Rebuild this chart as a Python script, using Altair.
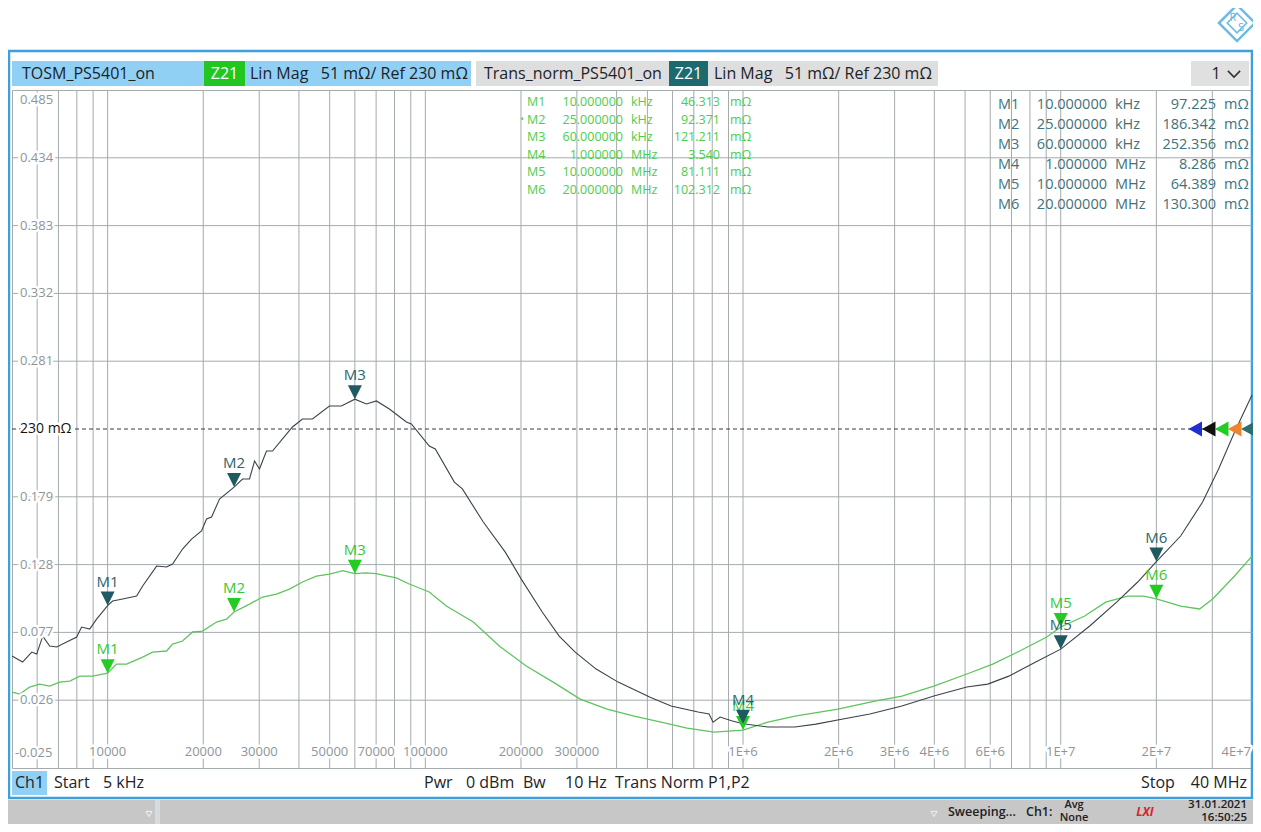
import altair as alt
import pandas as pd

FONT = "Open Sans"

# ---------------- values ----------------
# Trans_norm_PS5401_on trace (frequency Hz, |Z21| Ohm)
TRANS_TRACE = [
    (5000, 0.0592), (5400, 0.0547), (5770, 0.0622), (5980, 0.0607), (6250, 0.0742),
    (6570, 0.0667), (6910, 0.0660), (7430, 0.0697), (7990, 0.0735), (8280, 0.0810),
    (8780, 0.0795), (9230, 0.0870), (10000, 0.0972), (10370, 0.1006), (11150, 0.1021),
    (12340, 0.1043), (12890, 0.1119), (14260, 0.1269), (15330, 0.1262), (16010, 0.1284),
    (17210, 0.1397), (18370, 0.1472), (19750, 0.1533), (20480, 0.1623), (21240, 0.1638),
    (22500, 0.1773), (25000, 0.1863), (26580, 0.1924), (27960, 0.1924), (29000, 0.2059),
    (30060, 0.1999), (31620, 0.2134), (33030, 0.2134), (36550, 0.2262), (38180, 0.2315),
    (41050, 0.2375), (44130, 0.2375), (49900, 0.2473), (54420, 0.2473), (60000, 0.2524),
    (65240, 0.2488), (70160, 0.2511), (77060, 0.2450), (87170, 0.2353), (90360, 0.2338),
    (102900, 0.2172), (107500, 0.2150), (123400, 0.1901), (130800, 0.1849), (152200, 0.1600),
    (178500, 0.1374), (200400, 0.1171), (233300, 0.0923), (263800, 0.0742), (296300, 0.0622),
    (344900, 0.0494), (404500, 0.0396), (510000, 0.0283), (593700, 0.0216), (722000, 0.0171),
    (781800, 0.0156), (804900, 0.0095), (846800, 0.0133), (920000, 0.0105), (1000000, 0.0083),
    (1198000, 0.0058), (1457000, 0.0058), (1697000, 0.0080), (2063000, 0.0118), (2508000, 0.0156),
    (3162000, 0.0216), (3988000, 0.0291), (5063000, 0.0359), (5893000, 0.0381), (6864000, 0.0441),
    (8344000, 0.0547), (10000000, 0.0644), (12340000, 0.0818), (15000000, 0.0998),
    (17470000, 0.1149), (20000000, 0.1303), (23850000, 0.1495), (27960000, 0.1751),
    (31400000, 0.1999), (35260000, 0.2277), (40000000, 0.2555),
]
# TOSM_PS5401_on trace
TOSM_TRACE = [
    (5000, 0.0321), (5290, 0.0306), (5680, 0.0359), (6110, 0.0381), (6570, 0.0366),
    (7070, 0.0396), (7600, 0.0404), (8170, 0.0441), (8970, 0.0441), (10000, 0.0463),
    (10670, 0.0532), (11470, 0.0532), (12890, 0.0584), (13850, 0.0622), (15330, 0.0630),
    (16010, 0.0682), (17210, 0.0705), (18510, 0.0773), (19890, 0.0780), (22020, 0.0848),
    (23670, 0.0870), (25000, 0.0924), (27960, 0.0983), (30720, 0.1036), (34000, 0.1058),
    (37360, 0.1096), (41050, 0.1149), (45410, 0.1194), (49900, 0.1209), (55000, 0.1235),
    (60000, 0.1212), (65000, 0.1218), (70000, 0.1212), (75400, 0.1195), (81000, 0.1180),
    (89000, 0.1134), (102900, 0.1074), (116400, 0.0968), (141600, 0.0848), (170900, 0.0667),
    (207800, 0.0517), (252600, 0.0396), (307200, 0.0268), (373500, 0.0193), (454200, 0.0140),
    (552200, 0.0095), (666600, 0.0050), (810700, 0.0020), (1000000, 0.0035), (1198000, 0.0095),
    (1457000, 0.0140), (1989000, 0.0193), (2601000, 0.0253), (3162000, 0.0291), (3988000, 0.0366),
    (5063000, 0.0457), (6112000, 0.0532), (7431000, 0.0630), (9037000, 0.0735), (10000000, 0.0811),
    (11900000, 0.0893), (13850000, 0.0998), (16240000, 0.1043), (18240000, 0.1043),
    (20000000, 0.1023), (23850000, 0.0968), (27360000, 0.0946), (30060000, 0.1021),
    (35260000, 0.1194), (40000000, 0.1344),
]
MARKER_NAMES = ["M1", "M2", "M3", "M4", "M5", "M6"]
MARKER_FREQ = [10000, 25000, 60000, 1000000, 10000000, 20000000]
MARKER_FREQ_TXT = ["10.000000", "25.000000", "60.000000", "1.000000", "10.000000", "20.000000"]
MARKER_UNIT = ["kHz", "kHz", "kHz", "MHz", "MHz", "MHz"]
TOSM_MARKER_MOHM = [46.313, 92.371, 121.211, 3.540, 81.111, 102.312]
TRANS_MARKER_MOHM = [97.225, 186.342, 252.356, 8.286, 64.389, 130.300]
TOSM_MARKER_TXT = ["46.313", "92.371", "121.211", "3.540", "81.111", "102.312"]
TRANS_MARKER_TXT = ["97.225", "186.342", "252.356", "8.286", "64.389", "130.300"]

Y_TICKS = [0.485, 0.434, 0.383, 0.332, 0.281, 0.230, 0.179, 0.128, 0.077, 0.026, -0.025]
Y_TICK_TXT = ["0.485", "0.434", "0.383", "0.332", "0.281", "230 m\u03a9", "0.179", "0.128",
              "0.077", "0.026", "-0.025"]
X_GRID = [6000, 7000, 8000, 9000, 10000, 20000, 30000, 40000, 50000, 60000, 70000, 80000,
          90000, 100000, 200000, 300000, 400000, 500000, 600000, 700000, 800000, 900000,
          1000000, 2000000, 3000000, 4000000, 5000000, 6000000, 7000000, 8000000, 9000000,
          10000000, 20000000, 30000000]
X_LABEL_FREQ = [10000, 20000, 30000, 50000, 70000, 100000, 200000, 300000, 1000000,
                2000000, 3000000, 4000000, 6000000, 10000000, 20000000, 40000000]
X_LABEL_TXT = ["10000", "20000", "30000", "50000", "70000", "100000", "200000", "300000",
               "1E+6", "2E+6", "3E+6", "4E+6", "6E+6", "1E+7", "2E+7", "4E+7"]
REF_LEVEL = 0.230

# ---------------- layout ----------------
OX, OY = 12, 90            # plot origin in page pixels
W, H = 1240, 678
TOTAL_W, TOTAL_H = 1245, 816
PAD_L, PAD_T = OX - 8, OY - 8
PAD_R = TOTAL_W - PAD_L - W
PAD_B = TOTAL_H - PAD_T - H

GRID = "#a5aaad"
YLAB = "#8e959a"
DARK_TRACE = "#39434a"
GREEN_TRACE = "#5ec45e"
DARK_MK = "#1f5a62"
DARK_MK_TXT = "#2c656c"
GREEN_MK = "#22cc22"
GREEN_MK_TXT = "#35c935"
DARK_TAB = "#41727a"
GREEN_TAB = "#4ccd4c"
HDR_BLUE = "#90d0f5"
FRAME = "#3f9fdc"

xs = alt.Scale(type="log", domain=[5000, 40000000], nice=False)
ys = alt.Scale(domain=[-0.025, 0.485], nice=False, zero=False)

ONE = pd.DataFrame({"k": [0]})
REF_DF = pd.DataFrame({"v": [REF_LEVEL]})


def PX(xr):
    return alt.value(xr - OX)


def PY(yr):
    return alt.value(yr - OY)


def box(x1, y1, x2, y2, fill, stroke=None, sw=1, fo=1):
    kw = dict(fill=fill, fillOpacity=fo)
    if stroke:
        kw.update(stroke=stroke, strokeWidth=sw)
    return alt.Chart(ONE).mark_rect(**kw).encode(x=PX(x1), x2=PX(x2), y=PY(y1), y2=PY(y2))


def label(s, xr, yr, size=16, color="#1c2329", align="left", baseline="middle",
          weight="normal", style="normal", **kw):
    return alt.Chart(ONE).mark_text(
        text=s, font=FONT, fontSize=size, color=color, align=align, baseline=baseline,
        fontWeight=weight, fontStyle=style, **kw
    ).encode(x=PX(xr), y=PY(yr))


layers = []

# ---------------- decorations: frame, header, footer, status bar ----------------
layers.append(box(8, 800, 1262, 832, "#c7c7c7"))
layers.append(box(155, 800, 160, 832, "#d6dbe0"))
layers.append(box(9, 51, 1252, 798, "white", stroke=FRAME, sw=2.5, fo=0))
layers.append(box(12, 61, 471, 86, HDR_BLUE))
layers.append(box(204, 61, 245, 86, "#21c621"))
layers.append(box(476, 61, 938, 86, "#dedede"))
layers.append(box(669, 61, 708, 86, "#1d6a6e"))
layers.append(box(1191, 61, 1249, 86, "#e0e0e0"))
layers.append(box(12, 771, 47, 795, HDR_BLUE))

NB = "\u00a0"
LINMAG = "Lin" + NB + "Mag" + NB * 3 + "51" + NB + "m\u03a9/" + NB + "Ref" + NB + "230" + NB + "m\u03a9"
layers += [
    label("TOSM_PS5401_on", 22, 74),
    label("Z21", 224.5, 74, color="white", align="center"),
    label(LINMAG, 250, 74),
    label("Trans_norm_PS5401_on", 484, 74),
    label("Z21", 688.5, 74, color="white", align="center"),
    label(LINMAG, 714, 74),
    label("1", 1216, 74, align="center"),
    label("Ch1", 29.5, 783, align="center"),
    label("Start", 54, 783),
    label("5" + NB + "kHz", 103, 783),
    label("Pwr", 424, 783),
    label("0" + NB + "dBm", 466, 783),
    label("Bw", 523, 783),
    label("10" + NB + "Hz", 565, 783),
    label("Trans" + NB + "Norm" + NB + "P1,P2", 615, 783),
    label("Stop", 1141, 783),
    label("40" + NB + "MHz", 1247, 783, align="right"),
    label("Sweeping...", 948, 812, size=12.5, weight=600, color="#202020"),
    label("Ch1:", 1026, 812, size=12.5, weight=600, color="#202020"),
    label("Avg", 1074, 805, size=11, weight=600, color="#202020", align="center"),
    label("None", 1074, 818, size=11, weight=600, color="#202020", align="center"),
    label("LXI", 1145, 812, size=12, weight="bold", style="italic", color="#d8242b", align="center"),
    label("31.01.2021", 1247, 805, size=11.5, weight=600, color="#202020", align="right"),
    label("16:50:25", 1247, 818, size=11.5, weight=600, color="#202020", align="right"),
    label("R", 1233, 18, size=11, color="#5db3e2", align="center"),
    label("S", 1241, 28, size=11, color="#5db3e2", align="center"),
]
# chevron in "1 v" box, little status triangles, R&S diamond
layers.append(alt.Chart(ONE).mark_point(shape="M-1,-0.5L0,0.5L1,-0.5", filled=False, size=150,
                                        stroke="#333333", strokeWidth=1.6, opacity=1)
              .encode(x=PX(1234), y=PY(74)))
for tx in (149, 934):
    layers.append(alt.Chart(ONE).mark_point(shape="triangle-down", filled=False, size=36,
                                            stroke="#f2f2f2", strokeWidth=1, opacity=1)
                  .encode(x=PX(tx), y=PY(814)))
layers.append(alt.Chart(ONE).mark_point(shape="diamond", filled=False, size=1300,
                                        stroke="#6dbbe4", strokeWidth=2.5, opacity=1)
              .encode(x=PX(1237), y=PY(23)))
layers.append(alt.Chart(ONE).mark_point(shape="diamond", filled=False, size=380,
                                        stroke="#6dbbe4", strokeWidth=1.6, opacity=1)
              .encode(x=PX(1237), y=PY(23)))

# ---------------- grid ----------------
layers.append(alt.Chart(pd.DataFrame({"f": X_GRID})).mark_rule(color=GRID, strokeWidth=1)
              .encode(x=alt.X("f:Q", scale=xs, axis=None), y=alt.value(0), y2=alt.value(H)))
hvals = [v for v in Y_TICKS if v not in (0.485, REF_LEVEL, -0.025)]
layers.append(alt.Chart(pd.DataFrame({"v": hvals})).mark_rule(color=GRID, strokeWidth=1)
              .encode(y=alt.Y("v:Q", scale=ys, axis=None), x=alt.value(0), x2=alt.value(W)))


# ---------------- marker tables (one text per cell) ----------------
def table_layers(value_txt, xcols, y0, lh, size, color):
    out = []
    cols = [(MARKER_NAMES, "left"), (MARKER_FREQ_TXT, "right"), (MARKER_UNIT, "left"),
            (value_txt, "right"), (["m\u03a9"] * 6, "left")]
    for (vals, al), xc in zip(cols, xcols):
        for i, s in enumerate(vals):
            out.append(label(s, xc, y0 + i * lh, size=size, color=color, align=al))
    return out


layers += table_layers(TOSM_MARKER_TXT, [527, 623, 631, 720, 730], 102, 17.6, 12.5, GREEN_TAB)
layers.append(label("\u2022", 522, 119.6, size=10, color=GREEN_TAB, align="center"))
layers += table_layers(TRANS_MARKER_TXT, [998, 1107, 1115, 1216, 1224], 105, 20, 14.5, DARK_TAB)

# ---------------- reference line ----------------
layers.append(alt.Chart(REF_DF).mark_rule(color="#3a3a3a", strokeWidth=1, strokeDash=[4, 3])
              .encode(y=alt.Y("v:Q", scale=ys, axis=None), x=alt.value(0), x2=alt.value(W)))

# ---------------- traces ----------------
df_trans = pd.DataFrame(TRANS_TRACE, columns=["f", "v"])
df_tosm = pd.DataFrame(TOSM_TRACE, columns=["f", "v"])
enc = dict(x=alt.X("f:Q", scale=xs, axis=None), y=alt.Y("v:Q", scale=ys, axis=None))
layers.append(alt.Chart(df_tosm).mark_line(color=GREEN_TRACE, strokeWidth=1.3).encode(**enc))
layers.append(alt.Chart(df_trans).mark_line(color=DARK_TRACE, strokeWidth=1.1).encode(**enc))

# ---------------- markers ----------------
TRI = "M-1,-2L1,-2L0,0Z"
for vals, mk, tc in ((TOSM_MARKER_MOHM, GREEN_MK, GREEN_MK_TXT), (TRANS_MARKER_MOHM, DARK_MK, DARK_MK_TXT)):
    dfm = pd.DataFrame({"f": MARKER_FREQ, "v": [m / 1000 for m in vals], "name": MARKER_NAMES})
    layers.append(alt.Chart(dfm).mark_point(shape=TRI, filled=True, size=196, color=mk, opacity=1)
                  .encode(**enc))
    layers.append(alt.Chart(dfm).mark_text(font=FONT, fontSize=15, color=tc, dy=-24, baseline="middle")
                  .encode(text="name:N", **enc))


# ---------------- axis labels (inside the plot, with white halo) ----------------
def halo_pair(df, fill, mark_kw, encode_kw):
    base = alt.Chart(df)
    a = base.mark_text(stroke="white", strokeWidth=5, strokeJoin="round", fill="white", **mark_kw).encode(**encode_kw)
    b = base.mark_text(fill=fill, **mark_kw).encode(**encode_kw)
    return [a, b]


common = dict(font=FONT, fontSize=13, baseline="middle")
mid_y = pd.DataFrame({"v": [v for v in Y_TICKS if v not in (0.485, REF_LEVEL, -0.025)],
                      "t": [t for v, t in zip(Y_TICKS, Y_TICK_TXT) if v not in (0.485, REF_LEVEL, -0.025)]})
layers += halo_pair(mid_y, YLAB, dict(align="left", **common),
                    dict(x=alt.value(8), y=alt.Y("v:Q", scale=ys, axis=None), text="t:N"))
top_y = pd.DataFrame({"v": Y_TICKS[:1], "t": Y_TICK_TXT[:1]})
layers += halo_pair(top_y, YLAB, dict(align="left", dy=10, **common),
                    dict(x=alt.value(8), y=alt.Y("v:Q", scale=ys, axis=None), text="t:N"))
bot_y = pd.DataFrame({"v": Y_TICKS[-1:], "t": Y_TICK_TXT[-1:]})
layers += halo_pair(bot_y, YLAB, dict(align="left", dy=-15, **common),
                    dict(x=alt.value(3), y=alt.Y("v:Q", scale=ys, axis=None), text="t:N"))
ref_lab = pd.DataFrame({"v": [REF_LEVEL], "t": [Y_TICK_TXT[5]]})
layers += halo_pair(ref_lab, "#111111", dict(font=FONT, fontSize=14, baseline="middle", align="left"),
                    dict(x=alt.value(8), y=alt.Y("v:Q", scale=ys, axis=None), text="t:N"))

xl = pd.DataFrame({"f": X_LABEL_FREQ[:-1], "t": X_LABEL_TXT[:-1]})
layers += halo_pair(xl, YLAB, dict(align="center", **common),
                    dict(x=alt.X("f:Q", scale=xs, axis=None), y=PY(752), text="t:N"))
xl_last = pd.DataFrame({"f": X_LABEL_FREQ[-1:], "t": X_LABEL_TXT[-1:]})
layers += halo_pair(xl_last, YLAB, dict(align="right", dx=-1, **common),
                    dict(x=alt.X("f:Q", scale=xs, axis=None), y=PY(752), text="t:N"))

# ---------------- reference level arrows at the right edge ----------------
ARROW = "M0,0L2,-1.1L2,1.1Z"
for tip, col in ((1188.5, "#1f2fd0"), (1202, "#111111"), (1215, "#22cc22"), (1228, "#f0842a"), (1241, "#2b6e70")):
    layers.append(alt.Chart(REF_DF).mark_point(shape=ARROW, filled=True, size=182, color=col, opacity=1)
                  .encode(x=PX(tip), y=alt.Y("v:Q", scale=ys, axis=None)))

chart = alt.layer(*layers).properties(
    width=W, height=H,
    padding={"left": PAD_L, "top": PAD_T, "right": PAD_R, "bottom": PAD_B},
    autosize=alt.AutoSizeParams(type="none"),
    background="white",
).configure_view(stroke=GRID, strokeWidth=1)

chart.save("out.html", embed_options={"renderer": "svg", "actions": False})
